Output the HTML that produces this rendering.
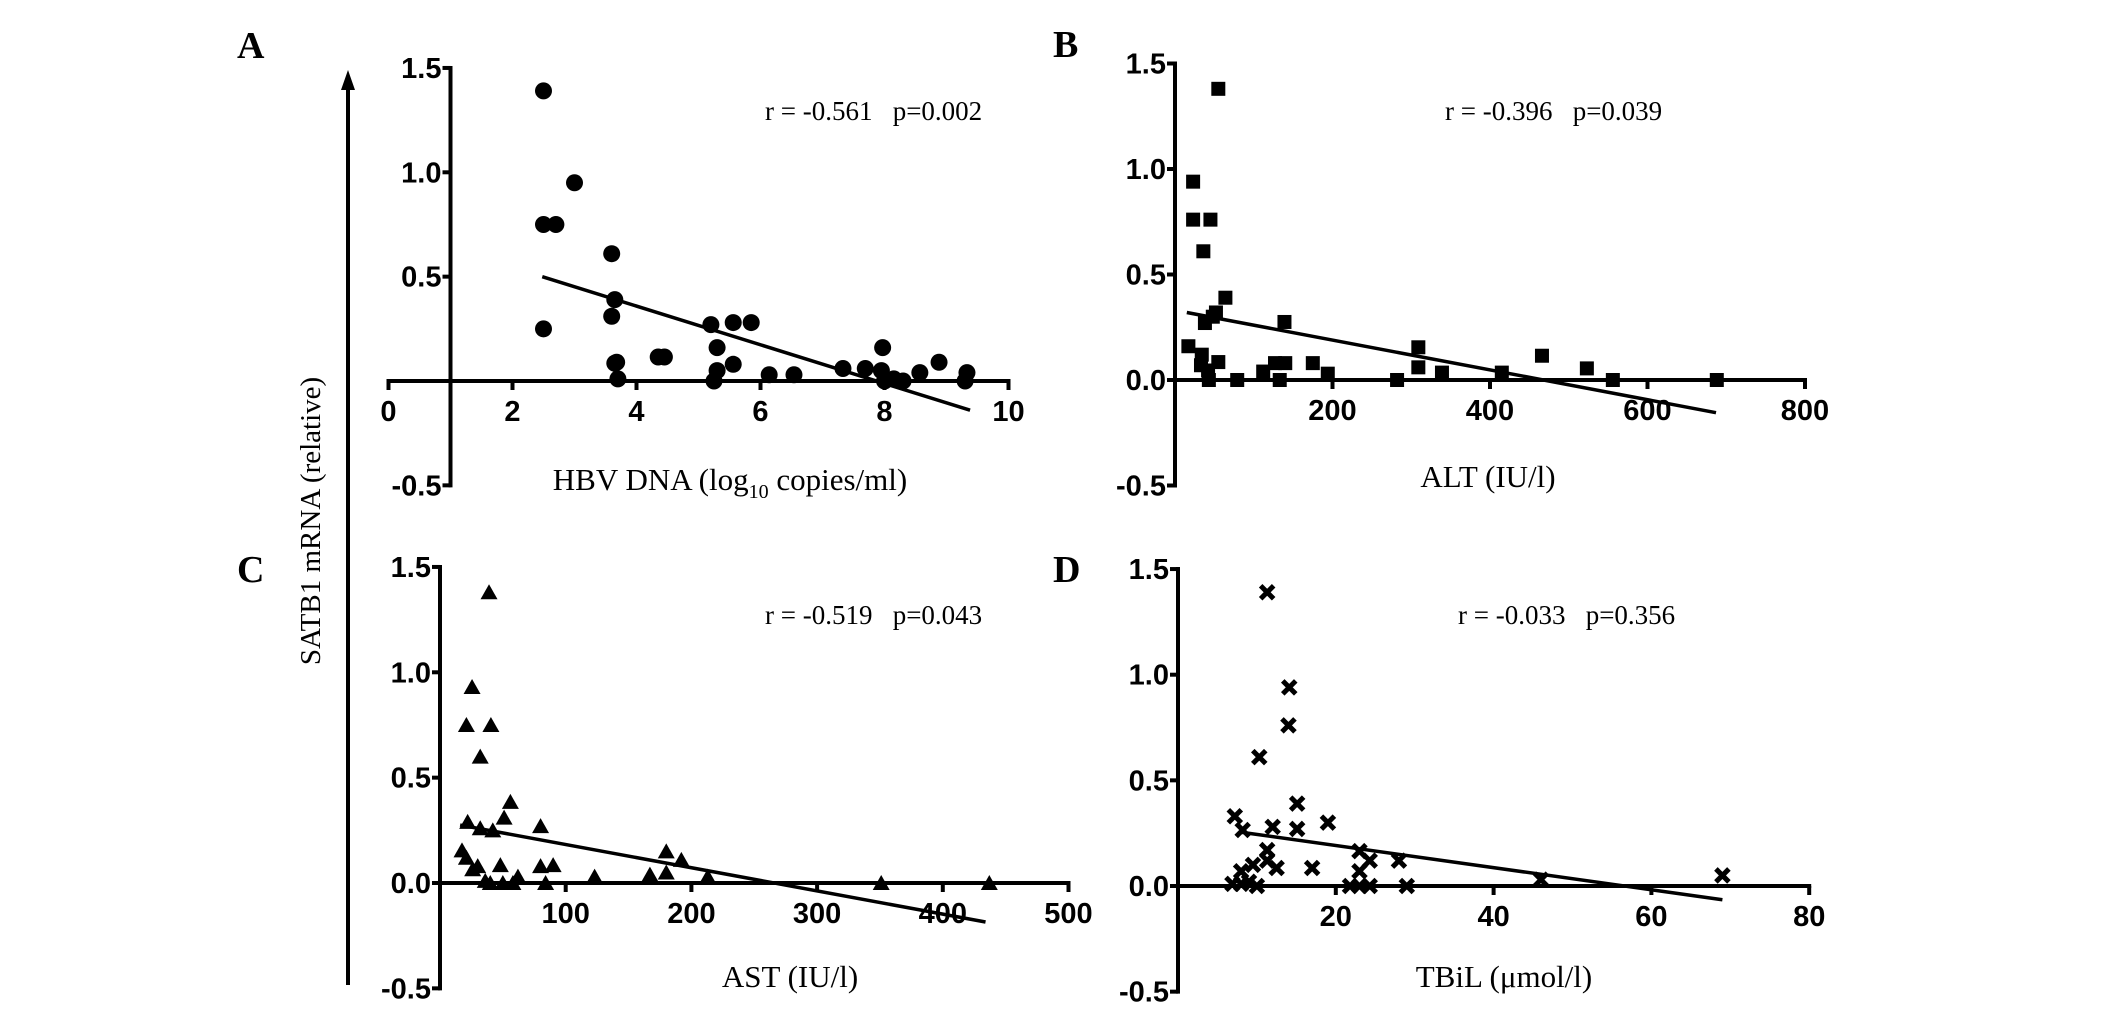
<!DOCTYPE html>
<html><head><meta charset="utf-8"><style>
html,body{margin:0;padding:0;background:#fff;}
svg{display:block;}
.tk{font-family:"Liberation Sans",sans-serif;font-weight:bold;font-size:29px;fill:#000;}
.ser{font-family:"Liberation Serif",serif;fill:#000;}
.pre{white-space:pre;}
</style></head><body>
<svg id="fig" width="2126" height="1010" viewBox="0 0 2126 1010" xmlns="http://www.w3.org/2000/svg">
<line x1="348" y1="985" x2="348" y2="84" stroke="#000" stroke-width="4"/>
<polygon points="348,70 341,90 355,90" fill="#000"/>
<text class="ser" font-size="29" transform="translate(320,521) rotate(-90)" text-anchor="middle">SATB1 mRNA (relative)</text>
<text class="ser" font-weight="bold" font-size="38" x="237" y="58">A</text>
<text class="ser" font-weight="bold" font-size="38" x="1053" y="57">B</text>
<text class="ser" font-weight="bold" font-size="38" x="237" y="582">C</text>
<text class="ser" font-weight="bold" font-size="38" x="1053" y="582">D</text>
</svg>
<script>
// Panel A: HBV DNA
const aX=[2.5,3.0,2.5,2.7,3.6,2.5,3.65,3.6,4.35,4.45,3.65,3.7,3.68,5.2,5.56,5.85,5.3,5.56,5.3,5.25,6.14,6.54,7.33,7.69,7.97,7.95,8.0,8.15,8.3,8.57,8.88,9.33,9.3];
const aY=[1.39,0.95,0.75,0.75,0.61,0.25,0.39,0.31,0.115,0.115,0.085,0.01,0.09,0.27,0.28,0.28,0.16,0.08,0.05,0.0,0.03,0.03,0.06,0.06,0.16,0.05,0.0,0.01,0.0,0.04,0.09,0.04,0.0];
const aFit=[2.48,0.50,9.38,-0.14];
const aTicksX=[0,2,4,6,8,10];
// Panel B: ALT
const bX=[55,23,23,45,36,64,52,38,48,139,17,34,33,42,55,43,79,112,127,140,133,175,194,282,309,309,339,415,466,523,556,688];
const bY=[1.38,0.94,0.76,0.76,0.61,0.39,0.32,0.27,0.30,0.275,0.16,0.12,0.07,0.045,0.085,0.0,0.0,0.04,0.08,0.08,0.0,0.08,0.03,0.0,0.155,0.06,0.035,0.035,0.115,0.055,0.0,0.0];
const bFit=[15,0.32,687,-0.155];
const bTicksX=[200,400,600,800];
// Panel C: AST
const cX=[39,25.5,21,40.5,32,56,51,22,32,42,80,17.5,21,26,30,48,80,90,36,40,50,58,62,84,123,167,180,180,192,213,351,437];
const cY=[1.38,0.93,0.75,0.75,0.60,0.385,0.31,0.29,0.26,0.25,0.27,0.155,0.12,0.065,0.08,0.085,0.08,0.085,0.01,0.0,0.0,0.0,0.03,0.0,0.03,0.04,0.15,0.05,0.11,0.03,0.0,0.0];
const cFit=[16,0.275,434,-0.185];
const cTicksX=[100,200,300,400,500];
// Panel D: TBiL
const dX=[11.3,14.1,14,10.3,15.1,7.2,8.2,12,15.1,19,11.3,11.3,12.5,9.5,8.0,17,23,24.3,23,28,6.9,8,9,10,21.8,23,24.3,29,46,69];
const dY=[1.39,0.94,0.76,0.61,0.39,0.33,0.265,0.28,0.27,0.30,0.17,0.12,0.085,0.10,0.07,0.085,0.165,0.12,0.07,0.12,0.01,0.01,0.02,0.0,0.0,0.0,0.0,0.0,0.03,0.05];
const dFit=[7.9,0.255,69,-0.065];
const dTicksX=[20,40,60,80];
const yTicks=[-0.5,0.0,0.5,1.0,1.5];

const NS="http://www.w3.org/2000/svg";
const svg=document.getElementById('fig');
function mk(tag,attrs,parent){const e=document.createElementNS(NS,tag);for(const k in attrs)e.setAttribute(k,attrs[k]);(parent||svg).appendChild(e);return e;}

function panel(p){
  const g=mk('g',{});
  
  
  const sx=v=>p.x0+(v-p.xmin)*p.kx;
  const sy=v=>p.y0-v*p.ky;
  const yaxX=sx(p.yAxisAt);
  const ya=mk('line',{x1:yaxX,y1:sy(1.5)-2,x2:yaxX,y2:sy(-0.5)+2,stroke:'#000','stroke-width':4},g);
  
  
  yTicks.forEach(t=>{
    const tl=mk('line',{x1:yaxX-8,y1:sy(t),x2:yaxX,y2:sy(t),stroke:'#000','stroke-width':4},g);
    
    
    if(p.hideZero && t===0) return;
    const tx=mk('text',{x:yaxX-9,y:sy(t)+10,'text-anchor':'end',class:'tk'},g);
    
    
    tx.textContent=t.toFixed(1);
  });
  const xa=mk('line',{x1:sx(p.xmin)-2,y1:sy(0),x2:sx(p.xmax)+2,y2:sy(0),stroke:'#000','stroke-width':4},g);
  
  
  p.ticks.forEach(t=>{
    const tl=mk('line',{x1:sx(t),y1:sy(0),x2:sx(t),y2:sy(0)+9,stroke:'#000','stroke-width':4},g);
    
    
    const tx=mk('text',{x:sx(t),y:sy(0)+40,'text-anchor':'middle',class:'tk'},g);
    
    
    tx.textContent=String(t);
  });
  const fl=mk('line',{x1:sx(p.fit[0]),y1:sy(p.fit[1]),x2:sx(p.fit[2]),y2:sy(p.fit[3]),stroke:'#000','stroke-width':3.5},g);
  
  
  p.xs.forEach((xv,i)=>{
    const cx=sx(xv),cy=sy(p.ys[i]);let m;
    if(p.marker==='circle'){m=mk('circle',{cx:cx,cy:cy,r:8.5,fill:'#000'},g);}
    else if(p.marker==='square'){m=mk('rect',{x:cx-7,y:cy-7,width:14,height:14,fill:'#000'},g);}
    else if(p.marker==='triangle'){m=mk('polygon',{points:(cx)+','+(cy-8)+' '+(cx-8.5)+','+(cy+7)+' '+(cx+8.5)+','+(cy+7),fill:'#000'},g);}
    else {m=mk('path',{d:'M'+(cx-6.5)+' '+(cy-6.5)+'L'+(cx+6.5)+' '+(cy+6.5)+'M'+(cx+6.5)+' '+(cy-6.5)+'L'+(cx-6.5)+' '+(cy+6.5),stroke:'#000','stroke-width':5,fill:'none'},g);}
    
    
  });
  const st=mk('text',{x:p.statX,y:p.statY,class:'ser pre','font-size':27},g);
  
  
  st.textContent=p.stat;
  const xt=mk('text',{x:p.titleX,y:p.titleY,class:'ser','font-size':31,'text-anchor':'middle'},g);
  
  
  if(p.sub){
    xt.appendChild(document.createTextNode('HBV DNA (log'));
    const ts=document.createElementNS(NS,'tspan');ts.setAttribute('font-size','20');ts.setAttribute('dy','8');ts.textContent='10';xt.appendChild(ts);
    const ts2=document.createElementNS(NS,'tspan');ts2.setAttribute('dy','-8');ts2.textContent=' copies/ml)';xt.appendChild(ts2);
  } else xt.textContent=p.title;
}
panel({id:'a',x0:388.5,xmin:0,xmax:10,kx:62,y0:381,ky:208.7,yAxisAt:1,hideZero:true,ticks:aTicksX,xs:aX,ys:aY,fit:aFit,marker:'circle',stat:'r = -0.561   p=0.002',statX:765,statY:120,titleX:730,titleY:490,sub:true});
panel({id:'b',x0:1175,xmin:0,xmax:800,kx:0.7875,y0:380,ky:211,yAxisAt:0,ticks:bTicksX,xs:bX,ys:bY,fit:bFit,marker:'square',stat:'r = -0.396   p=0.039',statX:1445,statY:120,titleX:1488,titleY:487,title:'ALT (IU/l)'});
panel({id:'c',x0:440,xmin:0,xmax:500,kx:1.257,y0:883,ky:210.7,yAxisAt:0,ticks:cTicksX,xs:cX,ys:cY,fit:cFit,marker:'triangle',stat:'r = -0.519   p=0.043',statX:765,statY:624,titleX:790,titleY:987,title:'AST (IU/l)'});
panel({id:'d',x0:1178,xmin:0,xmax:80,kx:7.89,y0:886,ky:211.3,yAxisAt:0,ticks:dTicksX,xs:dX,ys:dY,fit:dFit,marker:'x',stat:'r = -0.033   p=0.356',statX:1458,statY:624,titleX:1504,titleY:987,title:'TBiL (μmol/l)'});
</script>
</body></html>
